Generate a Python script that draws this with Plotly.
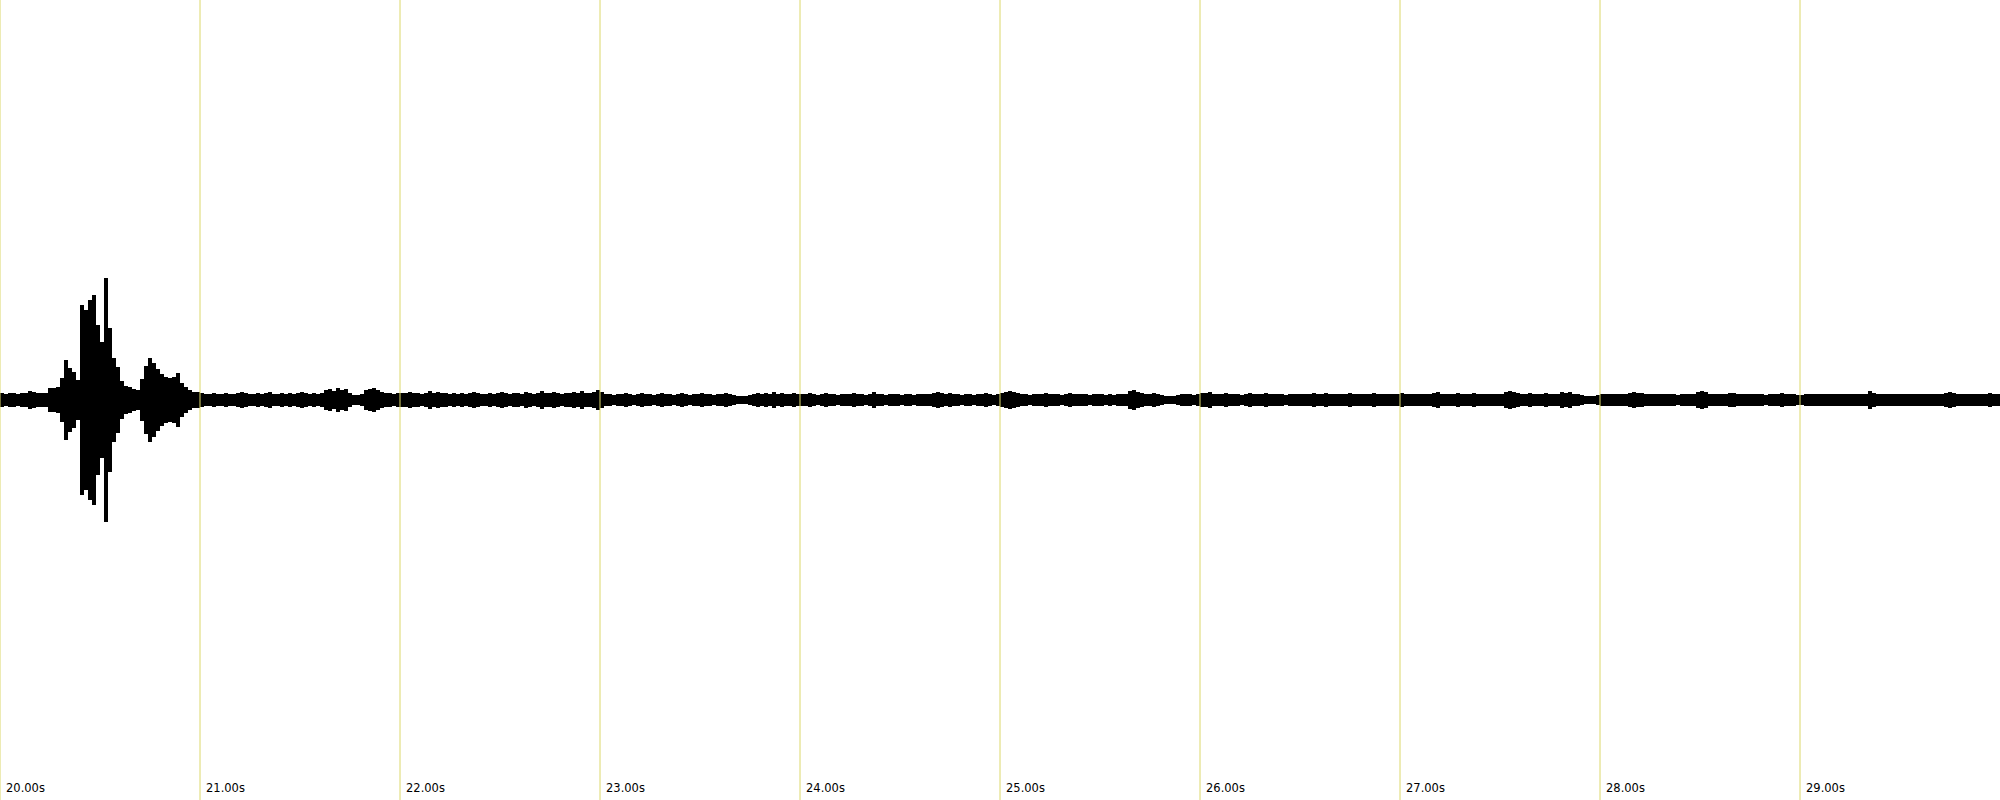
import numpy as np
import plotly.graph_objects as go

# Waveform envelope: half-amplitude per sample (axis units, range -400..400)
sample_start = 20.0
sample_step = 0.02
amp = [
    # 20.00 - 21.00 s (burst)
    7, 6, 7, 7, 6, 7, 7, 9, 8, 7, 7, 7, 12, 12, 13, 22, 40, 32, 28, 20,
    95, 90, 100, 105, 75, 58, 122, 72, 42, 33, 19, 14, 13, 11, 10, 21, 34, 42, 37, 31,
    26, 23, 22, 23, 27, 17, 13, 10, 8, 8, 7,
    # 21.02 - 30.00 s
    6, 6, 7, 6, 6, 7, 6, 6, 7, 8, 7, 6, 6, 7, 6, 7, 8, 6, 6, 7, 6, 7, 6, 7, 8,
    7, 6, 7, 6, 7, 10, 11, 9, 12, 10, 11, 7, 5, 5, 6, 10, 11, 12, 10, 8, 7, 7, 6, 7, 7,
    7, 8, 7, 7, 6, 7, 9, 7, 8, 7, 7, 6, 7, 6, 7, 6, 7, 8, 7, 6, 6, 7, 6, 7, 8,
    7, 6, 7, 7, 6, 8, 7, 6, 7, 9, 7, 7, 8, 7, 6, 7, 7, 8, 7, 9, 7, 7, 8, 10, 8,
    6, 6, 5, 6, 6, 7, 6, 5, 6, 7, 6, 6, 5, 6, 7, 6, 6, 5, 6, 7, 6, 5, 6, 6, 7,
    6, 6, 5, 6, 6, 7, 6, 5, 4, 4, 4, 5, 6, 7, 6, 7, 6, 8, 6, 7, 6, 6, 7, 6, 6,
    6, 7, 6, 5, 6, 7, 6, 6, 5, 6, 6, 6, 7, 6, 6, 5, 6, 8, 6, 6, 5, 6, 6, 6, 5,
    6, 6, 5, 6, 6, 6, 6, 7, 8, 7, 6, 7, 6, 6, 5, 6, 6, 5, 6, 6, 7, 6, 5, 6, 7,
    8, 9, 8, 7, 6, 6, 5, 6, 6, 6, 7, 6, 6, 6, 5, 6, 7, 6, 6, 6, 6, 5, 6, 6, 6,
    5, 6, 5, 6, 6, 6, 9, 10, 8, 7, 6, 6, 7, 6, 5, 4, 4, 4, 5, 6, 6, 6, 5, 6, 7,
    7, 8, 6, 6, 6, 7, 6, 6, 6, 5, 6, 7, 6, 6, 6, 7, 6, 6, 6, 6, 5, 6, 6, 6, 6,
    6, 6, 7, 6, 6, 7, 6, 6, 6, 6, 6, 7, 6, 6, 6, 6, 6, 7, 6, 6, 6, 6, 6, 6, 7,
    6, 6, 6, 6, 6, 6, 6, 7, 8, 6, 6, 6, 6, 7, 6, 6, 6, 7, 6, 6, 6, 6, 6, 6, 6,
    8, 9, 8, 7, 6, 6, 7, 6, 6, 6, 7, 6, 6, 6, 8, 7, 8, 6, 6, 5, 4, 4, 4, 5, 6,
    6, 6, 6, 6, 6, 6, 7, 8, 7, 7, 6, 6, 6, 6, 6, 6, 6, 6, 5, 6, 6, 6, 6, 8, 9,
    8, 6, 6, 6, 6, 6, 7, 7, 6, 6, 6, 6, 6, 6, 6, 5, 6, 6, 6, 7, 6, 6, 6, 5, 5,
    6, 6, 6, 6, 6, 6, 6, 6, 6, 6, 6, 6, 6, 6, 6, 6, 9, 7, 6, 6, 6, 6, 6, 6, 6,
    6, 6, 6, 6, 6, 6, 6, 6, 6, 6, 7, 8, 7, 6, 6, 6, 6, 6, 6, 6, 6, 7, 6, 6, 6,
]

tick_seconds = [20, 21, 22, 23, 24, 25, 26, 27, 28, 29]
tick_labels = ["20.00s", "21.00s", "22.00s", "23.00s", "24.00s",
               "25.00s", "26.00s", "27.00s", "28.00s", "29.00s"]

a = np.array(amp, dtype=float)
t = sample_start + sample_step * np.arange(len(a))

fig = go.Figure()
fig.add_trace(go.Scatter(x=t, y=-a, mode="lines", line=dict(width=0, shape="hv", color="black"),
                         hoverinfo="skip", showlegend=False))
fig.add_trace(go.Scatter(x=t, y=a, mode="lines", line=dict(width=0, shape="hv", color="black"),
                         fill="tonexty", fillcolor="black", hoverinfo="skip", showlegend=False))

for s, lab in zip(tick_seconds, tick_labels):
    fig.add_shape(type="line", x0=s, x1=s, y0=0, y1=1, xref="x", yref="paper",
                  line=dict(color="#dcd86a", width=1), layer="above")
    fig.add_annotation(x=s, y=0, xref="x", yref="paper", text=lab, showarrow=False,
                       xanchor="left", yanchor="bottom", xshift=4, yshift=3,
                       font=dict(family="DejaVu Sans", size=11.5, color="#000000"))

fig.update_layout(
    width=2000, height=800,
    margin=dict(l=0, r=0, t=0, b=0),
    paper_bgcolor="white", plot_bgcolor="white",
    xaxis=dict(range=[20, 30], showgrid=False, zeroline=False, showticklabels=False,
               showline=False, ticks=""),
    yaxis=dict(range=[-400, 400], showgrid=False, zeroline=False, showticklabels=False,
               showline=False, ticks=""),
)

fig.write_html("out.html", config={"displayModeBar": False},
               post_script="document.body.style.margin='0';document.body.style.overflow='hidden';")
